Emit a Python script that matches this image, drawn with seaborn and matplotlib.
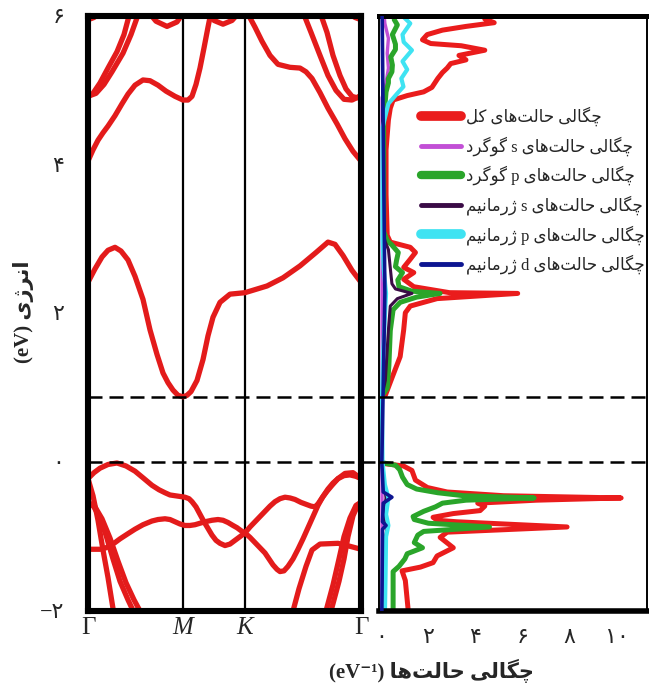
import matplotlib
matplotlib.use("Agg")
import matplotlib.pyplot as plt
from matplotlib.lines import Line2D
from matplotlib.ticker import FixedLocator, FuncFormatter
from matplotlib.transforms import ScaledTranslation
import pandas as pd
import seaborn as sns

# ---------------------------------------------------------------- data
# k-path index along Γ–M–K–Γ and its labels
kpath = [0, 95, 157, 273]
kpath_labels = ["Γ", "M", "K", "Γ"]
# valence-band maximum and conduction-band minimum (eV)
band_edges = [0.0, 0.88]

# conduction bands
c1_k = [0, 7, 14, 20, 27, 33, 40, 47, 55, 62, 69, 75, 80, 85, 90, 95, 99, 103, 109, 115, 120, 125, 132, 142, 157, 179, 195, 212, 228, 240, 247, 255, 264, 273]
c1_e = [2.42, 2.6, 2.76, 2.85, 2.89, 2.84, 2.72, 2.5, 2.19, 1.78, 1.45, 1.2, 1.07, 0.97, 0.9, 0.88, 0.9, 0.95, 1.1, 1.38, 1.7, 1.95, 2.15, 2.26, 2.28, 2.37, 2.48, 2.64, 2.82, 2.96, 2.93, 2.78, 2.58, 2.42]
c2_k = [0, 5, 10, 15, 20, 27, 34, 40, 47, 55, 62, 70, 78, 87, 95, 100, 104, 108, 112, 116, 120, 123]
c2_e = [4.05, 4.2, 4.33, 4.43, 4.52, 4.66, 4.82, 4.95, 5.07, 5.14, 5.13, 5.07, 4.99, 4.92, 4.87, 4.87, 4.92, 5.08, 5.3, 5.57, 5.85, 6.05]
c3_k = [159, 167, 174, 182, 190, 202, 212, 218, 224, 232, 240, 249, 257, 265, 273]
c3_e = [6.05, 5.85, 5.66, 5.47, 5.35, 5.31, 5.3, 5.25, 5.16, 4.97, 4.76, 4.55, 4.35, 4.18, 4.05]
p1_k = [0, 5, 12, 20, 29, 36, 42]
p1_e = [4.92, 4.96, 5.1, 5.3, 5.52, 5.75, 6.05]
p2_k = [0, 8, 16, 24, 35, 43, 51]
p2_e = [4.92, 4.96, 5.08, 5.25, 5.5, 5.75, 6.05]
q1_k = [215, 223, 232, 240, 248, 256, 264, 273]
q1_e = [6.05, 5.78, 5.47, 5.2, 5.0, 4.88, 4.87, 4.93]
q2_k = [232, 239, 245, 252, 258, 264, 269, 273]
q2_e = [6.05, 5.78, 5.47, 5.2, 5.02, 4.92, 4.9, 4.93]
t1_k = [0, 6, 13]
t1_e = [5.95, 5.98, 6.06]
t2_k = [60, 68, 79, 89, 96]
t2_e = [6.06, 5.93, 5.86, 5.92, 6.06]
t3_k = [119, 126, 135, 144, 152]
t3_e = [6.06, 5.94, 5.89, 5.94, 6.06]
t4_k = [259, 267, 273]
t4_e = [6.06, 5.98, 5.95]

# valence bands
v1_k = [0, 6, 12, 20, 29, 38, 47, 56, 64, 71, 77, 82, 87, 92, 97, 101, 104, 108, 112, 116, 120, 124, 128, 132, 137, 142, 147, 152, 157, 162, 167, 172, 177, 182, 187, 192, 197, 202, 207, 213, 219, 223, 227, 230, 234, 239, 244, 250, 257, 265, 273]
v1_e = [-0.22, -0.14, -0.08, -0.03, -0.01, -0.05, -0.12, -0.22, -0.31, -0.37, -0.41, -0.44, -0.45, -0.46, -0.47, -0.49, -0.53, -0.6, -0.7, -0.8, -0.89, -0.98, -1.05, -1.09, -1.12, -1.1, -1.05, -1.0, -0.95, -0.87, -0.8, -0.73, -0.66, -0.59, -0.53, -0.49, -0.47, -0.48, -0.5, -0.54, -0.57, -0.59, -0.6, -0.56, -0.48, -0.39, -0.31, -0.22, -0.15, -0.14, -0.22]
v2_k = [0, 12, 18, 22, 27, 32, 40, 47, 55, 64, 70, 77, 82, 87, 92, 97, 102, 107, 112, 117, 124, 130, 135, 140, 145, 149, 153, 157, 162, 167, 172, 177, 181, 185, 189, 192, 196, 200, 205, 210, 215, 220, 225, 230, 235, 240, 245, 250, 256, 262, 268, 273]
v2_e = [-1.17, -1.17, -1.15, -1.12, -1.08, -1.03, -0.96, -0.9, -0.84, -0.79, -0.77, -0.76, -0.77, -0.8, -0.83, -0.85, -0.85, -0.84, -0.82, -0.8, -0.78, -0.77, -0.78, -0.81, -0.85, -0.88, -0.92, -0.95, -1.01, -1.08, -1.15, -1.22, -1.3, -1.38, -1.44, -1.47, -1.46, -1.4, -1.3, -1.17, -1.03, -0.88, -0.73, -0.58, -0.46, -0.36, -0.28, -0.22, -0.18, -0.17, -0.19, -0.22]
v3_k = [204, 211, 218, 224, 232, 250, 262, 273]
v3_e = [-2.05, -1.7, -1.4, -1.18, -1.1, -1.09, -1.13, -1.17]
a1_k = [0, 5, 10, 15, 20, 26]
a1_e = [-0.22, -0.45, -0.78, -1.18, -1.55, -2.05]
b1_k = [0, 5, 11, 18, 25, 32, 40, 47]
b1_e = [-0.54, -0.58, -0.72, -0.98, -1.3, -1.6, -1.85, -2.05]
b2_k = [0, 7, 14, 22, 30, 38, 46, 54]
b2_e = [-0.54, -0.6, -0.76, -1.02, -1.33, -1.62, -1.85, -2.05]
b3_k = [273, 268, 262, 256, 251, 245, 241, 237]
b3_e = [-0.54, -0.58, -0.75, -1.0, -1.3, -1.65, -1.85, -2.05]
b4_k = [273, 270, 265, 260, 256, 251, 246, 242]
b4_e = [-0.54, -0.57, -0.72, -1.0, -1.3, -1.6, -1.85, -2.05]

# densities of states (states/eV) against energy (eV)
tot_e = [-2.05, -1.59, -1.46, -1.41, -1.35, -1.26, -1.15, -1.01, -0.94, -0.87, -0.8, -0.78, -0.74, -0.69, -0.65, -0.59, -0.55, -0.51, -0.48, -0.45, -0.4, -0.34, -0.24, -0.11, -0.05, -0.02, 0.0,
         0.88, 0.9, 1.15, 1.42, 1.78, 2.01, 2.1, 2.2, 2.27, 2.28, 2.36, 2.46, 2.55, 2.62, 2.73, 2.82, 2.89, 2.96, 3.05, 3.6, 4.2, 4.6,
         4.76, 4.87, 4.93, 4.98, 5.04, 5.16, 5.24, 5.3, 5.36, 5.41, 5.47, 5.54, 5.6, 5.63, 5.68, 5.75, 5.81, 5.86, 5.91, 5.96, 6.02, 6.08]
tot_dos = [1.16, 1.02, 0.88, 1.66, 2.2, 2.37, 3.06, 2.5, 2.8, 7.9, 3.2, 2.37, 2.2, 3.06, 4.2, 4.4, 4.1, 6.6, 10.2, 5.2, 2.8, 1.96, 1.45, 1.3, 0.94, 0.17, 0.0,
           0.0, 0.17, 0.47, 0.8, 0.95, 1.02, 1.23, 2.37, 5.8, 2.9, 1.38, 0.95, 1.38, 0.95, 1.23, 1.45, 1.23, 0.38, 0.25, 0.2, 0.2, 0.3,
           0.38, 0.5, 1.1, 1.8, 2.15, 2.4, 2.6, 2.8, 2.95, 3.6, 3.3, 4.4, 3.4, 2.1, 1.75, 1.95, 2.6, 3.6, 4.8, 4.4, 4.5, 3.7]
s_s_e = [-2.05, 4.9, 5.1, 5.3, 5.5, 5.7, 5.9, 6.08]
s_s_dos = [0.03, 0.03, 0.2, 0.3, 0.25, 0.3, 0.15, 0.1]
s_p_e = [-2.05, -1.47, -1.4, -1.3, -1.23, -1.15, -1.08, -0.98, -0.93, -0.87, -0.82, -0.77, -0.73, -0.66, -0.6, -0.55, -0.51, -0.48, -0.45, -0.41, -0.36, -0.3, -0.2, -0.1, -0.04, -0.01, 0.0,
         0.88, 1.0, 1.3, 1.77, 2.05, 2.15, 2.22, 2.27, 2.3, 2.36, 2.45, 2.55, 2.63, 2.72, 2.82, 2.92, 2.98, 3.1, 4.6, 4.98, 5.1, 5.16, 5.25, 5.34, 5.45, 5.55, 5.62, 5.75, 5.88, 5.95, 6.08]
s_p_dos = [0.5, 0.5, 0.75, 1.0, 1.1, 1.75, 1.4, 1.55, 1.8, 4.6, 2.0, 1.4, 1.35, 1.8, 2.3, 2.6, 3.6, 6.5, 3.5, 2.4, 1.5, 1.1, 0.9, 0.78, 0.6, 0.1, 0.0,
           0.0, 0.25, 0.32, 0.38, 0.5, 0.8, 1.5, 2.5, 1.3, 0.75, 0.7, 0.9, 0.6, 0.65, 0.72, 0.45, 0.25, 0.1, 0.1, 0.2, 0.3, 0.3, 0.45, 0.47, 0.4, 0.6, 0.6, 0.47, 0.68, 0.55, 0.6]
ge_s_e = [-2.05, -1.2, -0.87, -0.7, -0.48, -0.2, 0.0, 0.88, 1.1, 1.78, 2.1, 2.2, 2.27, 2.33, 2.4, 2.55, 2.86, 2.96, 3.1, 6.08]
ge_s_dos = [0.08, 0.1, 0.25, 0.1, 0.2, 0.08, 0.02, 0.02, 0.17, 0.3, 0.38, 0.68, 1.3, 0.6, 0.45, 0.4, 0.3, 0.17, 0.05, 0.05]
ge_p_e = [-2.05, -1.5, -1.0, -0.85, -0.7, -0.48, -0.3, 0.0, 0.88, 1.5, 2.27, 2.6, 3.0, 4.5, 4.82, 4.96, 5.05, 5.16, 5.28, 5.39, 5.54, 5.65, 5.75, 5.9, 6.0, 6.08]
ge_p_dos = [0.15, 0.18, 0.2, 0.3, 0.2, 0.3, 0.15, 0.05, 0.03, 0.08, 0.2, 0.1, 0.05, 0.05, 0.3, 0.68, 0.94, 0.85, 1.1, 0.9, 1.3, 0.95, 0.9, 1.23, 0.9, 0.8]
ge_d_e = [-2.05, -0.9, -0.85, -0.8, -0.55, -0.47, -0.4, 0.0, 2.27, 6.08]
ge_d_dos = [0.02, 0.05, 0.2, 0.05, 0.08, 0.45, 0.08, 0.02, 0.15, 0.03]

dos_labels = [
    "چگالی حالت\u200cهای کل",
    "چگالی حالت\u200cهای s گوگرد",
    "چگالی حالت\u200cهای p گوگرد",
    "چگالی حالت\u200cهای s ژرمانیم",
    "چگالی حالت\u200cهای p ژرمانیم",
    "چگالی حالت\u200cهای d ژرمانیم",
]
energy_label = "انرژی (eV)"
dos_axis_label = "چگالی حالت\u200cها (eV⁻¹)"
energy_ticks = [-2, 0, 2, 4, 6]
dos_ticks = [0, 2, 4, 6, 8, 10]

# ---------------------------------------------------------------- text helpers
# contextual forms: isolated, final, initial, medial (right-joining letters have two)
_FORMS = {
    "ا": ("\uFE8D", "\uFE8E"),
    "د": ("\uFEA9", "\uFEAA"),
    "ر": ("\uFEAD", "\uFEAE"),
    "ز": ("\uFEAF", "\uFEB0"),
    "ژ": ("\uFB8A", "\uFB8B"),
    "و": ("\uFEED", "\uFEEE"),
    "ت": ("\uFE95", "\uFE96", "\uFE97", "\uFE98"),
    "ح": ("\uFEA1", "\uFEA2", "\uFEA3", "\uFEA4"),
    "چ": ("\uFB7A", "\uFB7B", "\uFB7C", "\uFB7D"),
    "ک": ("\uFB8E", "\uFB8F", "\uFB90", "\uFB91"),
    "گ": ("\uFB92", "\uFB93", "\uFB94", "\uFB95"),
    "ل": ("\uFEDD", "\uFEDE", "\uFEDF", "\uFEE0"),
    "م": ("\uFEE1", "\uFEE2", "\uFEE3", "\uFEE4"),
    "ن": ("\uFEE5", "\uFEE6", "\uFEE7", "\uFEE8"),
    "ه": ("\uFEE9", "\uFEEA", "\uFEEB", "\uFEEC"),
    "ی": ("\uFBFC", "\uFBFD", "\uFBFE", "\uFBFF"),
}


def _shape(text):
    out = []
    for i, ch in enumerate(text):
        forms = _FORMS.get(ch)
        if forms is None:
            out.append(ch)
            continue
        prev = text[i - 1] if i > 0 else ""
        nxt = text[i + 1] if i + 1 < len(text) else ""
        join_prev = prev in _FORMS and len(_FORMS[prev]) == 4
        join_next = len(forms) == 4 and nxt in _FORMS
        if join_prev and join_next:
            out.append(forms[3])
        elif join_prev:
            out.append(forms[1])
        elif join_next:
            out.append(forms[2])
        else:
            out.append(forms[0])
    return "".join(out).replace("\u200c", "")


def rtl(text):
    """Shape Persian letters and put the line in visual (left-to-right) order."""
    s = _shape(text)
    kinds = []
    for ch in s:
        if "\u0600" <= ch <= "\u06EF" or "\uFB50" <= ch <= "\uFEFF":
            kinds.append("R")
        elif ch in " ()":
            kinds.append("N")
        else:
            kinds.append("L")
    resolved = kinds[:]
    i = 0
    while i < len(s):
        if kinds[i] == "N":
            j = i
            while j < len(s) and kinds[j] == "N":
                j += 1
            left = kinds[i - 1] if i > 0 else "R"
            right = kinds[j] if j < len(s) else "R"
            for m in range(i, j):
                resolved[m] = left if left == right else "R"
            i = j
        else:
            i += 1
    runs = []
    for ch, d in zip(s, resolved):
        if runs and runs[-1][0] == d:
            runs[-1][1].append(ch)
        else:
            runs.append((d, [ch]))
    mirror = {"(": ")", ")": "("}
    parts = []
    for d, chars in reversed(runs):
        if d == "R":
            parts.append("".join(mirror.get(c, c) for c in reversed(chars)))
        else:
            parts.append("".join(chars))
    return "".join(parts)


_FA = str.maketrans("0123456789-", "۰۱۲۳۴۵۶۷۸۹−")


def fa_num(v, pos=None):
    return f"{v:g}".translate(_FA)


# ---------------------------------------------------------------- style
sns.set_style("white")
FAM = ["Liberation Serif", "DejaVu Sans"]
plt.rcParams["font.family"] = FAM

RED = "#e31b1b"
dos_colors = ["#ea1c1c", "#c24fd6", "#2aa52a", "#3a0b46", "#3fe3f2", "#0d1591"]
dos_widths = [3.6, 2.4, 3.6, 2.2, 3.0, 2.6]
legend_widths = [7.0, 3.5, 6.0, 3.5, 7.0, 3.5]
dos_order = [1, 2, 3, 4, 5, 6]

W, H = 649, 693
fig = plt.figure(figsize=(W / 100, H / 100), dpi=100)
top_px, bot_px = 16, 611
ax_b = fig.add_axes([88 / W, 1 - bot_px / H, (361 - 88) / W, (bot_px - top_px) / H])
ax_d = fig.add_axes([379 / W, 1 - bot_px / H, (647 - 379) / W, (bot_px - top_px) / H])

# ---------------------------------------------------------------- band structure
band_series = [
    (c1_k, c1_e), (c2_k, c2_e), (c3_k, c3_e), (p1_k, p1_e), (p2_k, p2_e),
    (q1_k, q1_e), (q2_k, q2_e), (t1_k, t1_e), (t2_k, t2_e), (t3_k, t3_e), (t4_k, t4_e),
    (v1_k, v1_e), (v2_k, v2_e), (v3_k, v3_e), (a1_k, a1_e), (b1_k, b1_e),
    (b2_k, b2_e), (b3_k, b3_e), (b4_k, b4_e),
]
rows = [(i, k, e) for i, (ks, es) in enumerate(band_series) for k, e in zip(ks, es)]
band_df = pd.DataFrame(rows, columns=["band", "k", "E"])
sns.lineplot(data=band_df, x="k", y="E", units="band", estimator=None, sort=False,
             color=RED, lw=3.8, solid_capstyle="round", solid_joinstyle="round",
             legend=False, ax=ax_b, zorder=3)

for kp in kpath[1:-1]:
    ax_b.axvline(kp, color="black", lw=1.6, zorder=2)

ax_b.set_xlim(kpath[0], kpath[-1])
ax_b.set_ylim(-2, 6)
ax_b.set_xticks(kpath)
ax_b.set_xticklabels(kpath_labels)
label_shift = [2, -15, 10, -23]
label_style = ["normal", "italic", "italic", "normal"]
for lab, dx, st in zip(ax_b.get_xticklabels(), label_shift, label_style):
    lab.set_transform(lab.get_transform() + ScaledTranslation(dx / 100, 0, fig.dpi_scale_trans))
    lab.set_fontstyle(st)
    lab.set_fontfamily(["Liberation Serif"])
    lab.set_fontsize(18)
ax_b.tick_params(axis="x", length=0, pad=4)
ax_b.yaxis.set_major_locator(FixedLocator(energy_ticks))
ax_b.yaxis.set_major_formatter(FuncFormatter(fa_num))
ax_b.tick_params(axis="y", direction="in", length=4, width=0.8, color="0.7",
                 labelsize=16, pad=17)
ax_b.set_xlabel("")
ax_b.set_ylabel("")
for sp in ax_b.spines.values():
    sp.set_linewidth(4.4)
    sp.set_color("black")
    sp.set_zorder(4)

# ---------------------------------------------------------------- densities of states
dos_series = [
    (tot_e, tot_dos), (s_s_e, s_s_dos), (s_p_e, s_p_dos),
    (ge_s_e, ge_s_dos), (ge_p_e, ge_p_dos), (ge_d_e, ge_d_dos),
]
for (es, vs), col, lw, z in zip(dos_series, dos_colors, dos_widths, dos_order):
    sns.lineplot(x=vs, y=es, orient="y", sort=False, estimator=None, color=col, lw=lw,
                 solid_joinstyle="round", solid_capstyle="round", legend=False,
                 ax=ax_d, zorder=2 + z * 0.1)

ax_d.set_xlim(-0.1, 11.3)
ax_d.set_ylim(-2, 6)
ax_d.xaxis.set_major_locator(FixedLocator(dos_ticks))
ax_d.xaxis.set_major_formatter(FuncFormatter(fa_num))
ax_d.tick_params(axis="x", direction="out", length=3, width=0.8, color="0.75",
                 labelsize=16, pad=10)
ax_d.yaxis.set_major_locator(FixedLocator(energy_ticks))
ax_d.tick_params(axis="y", direction="in", length=4, width=0.8, color="0.7", labelleft=False)
ax_d.set_xlabel("")
ax_d.set_ylabel("")
ax_d.spines["top"].set_linewidth(3.6)
ax_d.spines["bottom"].set_linewidth(4.0)
ax_d.spines["left"].set_linewidth(1.4)
ax_d.spines["right"].set_linewidth(1.4)
for sp in ax_d.spines.values():
    sp.set_color("black")

# band edges, drawn across both panels
gap_reach = (379 - 88) / (361 - 88)
for e in band_edges:
    ax_b.axhline(e, xmin=0, xmax=gap_reach, color="black", lw=1.8,
                 ls=(0, (5.6, 2.8)), clip_on=False, zorder=5)
    ax_d.axhline(e, color="black", lw=1.8, ls=(0, (5.6, 2.8)), zorder=5)

handles = [Line2D([], [], color=c, lw=w, solid_capstyle="round")
           for c, w in zip(dos_colors, legend_widths)]
ax_d.legend(handles, [rtl(t) for t in dos_labels], loc="upper left",
            bbox_to_anchor=(0.145, 0.853), frameon=False,
            prop={"family": FAM, "size": 12}, handlelength=2.4,
            handletextpad=0.3, labelspacing=0.6, borderpad=0.2, borderaxespad=0)

# axis titles
fig.text(23 / W, 1 - 312 / H, rtl(energy_label), rotation=90, ha="center", va="center",
         fontsize=15, fontweight="bold", family=FAM)
fig.text(431 / W, 1 - 671 / H, rtl(dos_axis_label), ha="center", va="center",
         fontsize=15, fontweight="bold", family=FAM)

fig.savefig("out.png", dpi=100)
